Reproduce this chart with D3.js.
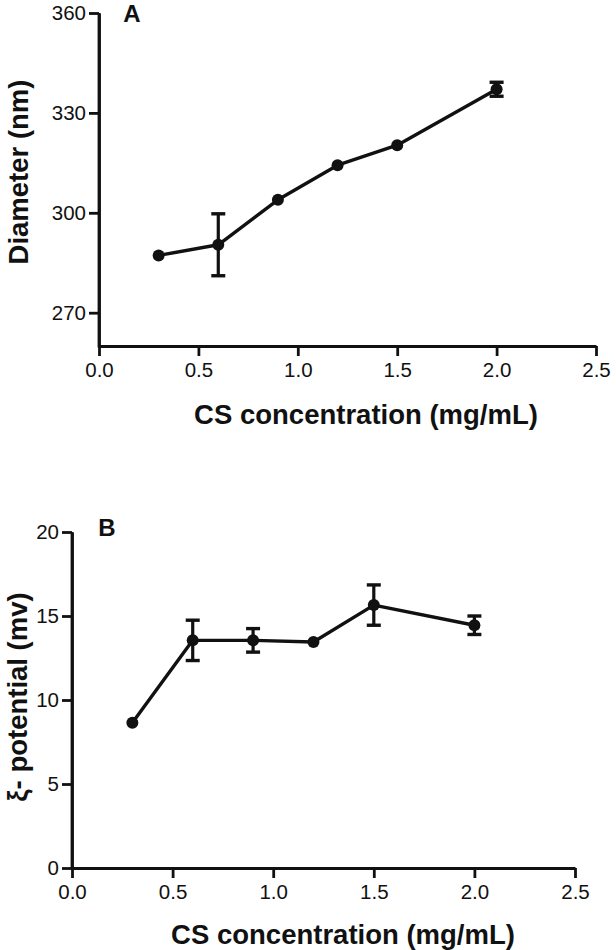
<!DOCTYPE html>
<html>
<head>
<meta charset="utf-8">
<script src="https://cdn.jsdelivr.net/npm/d3@7"></script>
<style>
  html, body { margin: 0; padding: 0; background: #fff; }
  svg { display: block; }
  text { font-family: "Liberation Sans", Arial, Helvetica, sans-serif; fill: #111; }
</style>
</head>
<body>
<svg id="chart" width="616" height="950"></svg>
<script>
// ---- data ----
const concentration = [0.3, 0.6, 0.9, 1.2, 1.5, 2.0];
const diameterMean = [287.2, 290.4, 303.9, 314.3, 320.3, 337.1];
const diameterErr  = [0, 9.3, 0, 0, 0, 2.1];
const zetaMean = [8.65, 13.55, 13.55, 13.45, 15.65, 14.45];
const zetaErr  = [0, 1.2, 0.7, 0, 1.2, 0.55];
const xTickValues = [0, 0.5, 1.0, 1.5, 2.0, 2.5];
const diameterTicks = [270, 300, 330, 360];
const zetaTicks = [0, 5, 10, 15, 20];
const xTitle = "CS concentration (mg/mL)";
const yTitleA = "Diameter (nm)";
const yTitleB = "ξ- potential (mv)";

const svg = d3.select("#chart");

function panel(cfg) {
  const g = svg.append("g");
  const x = d3.scaleLinear().domain([0, 2.5]).range([cfg.x0, cfg.x1]);
  const y = d3.scaleLinear().domain(cfg.yDomain).range([cfg.yBottom, cfg.yTop]);

  const xAxis = d3.axisBottom(x).tickValues(xTickValues).tickFormat(d3.format(".1f"))
    .tickSize(10).tickSizeOuter(0).tickPadding(6);
  const yAxis = d3.axisLeft(y).tickValues(cfg.yTicks).tickFormat(d3.format("d"))
    .tickSize(10).tickSizeOuter(0).tickPadding(3);

  const gx = g.append("g").attr("transform", `translate(0,${cfg.yBottom})`).call(xAxis);
  const gy = g.append("g").attr("transform", `translate(${cfg.x0},0)`).call(yAxis);
  [gx, gy].forEach(a => {
    a.select(".domain").attr("stroke", "#111").attr("stroke-width", 2.8);
    a.selectAll(".tick line").attr("stroke", "#111").attr("stroke-width", 2.8);
    a.selectAll(".tick text").attr("font-size", 20.5).attr("fill", "#111")
      .style("font-family", '"Liberation Sans", Arial, sans-serif');
  });
  g.append("line").attr("x1", cfg.x0).attr("x2", cfg.x0)
    .attr("y1", y(cfg.yDomain[0]) + 1.4).attr("y2", y(cfg.yDomain[1]))
    .attr("stroke", "#111").attr("stroke-width", 2.8);

  const line = d3.line().x((d, i) => x(concentration[i])).y(d => y(d));
  g.append("path").datum(cfg.mean).attr("d", line)
    .attr("fill", "none").attr("stroke", "#111").attr("stroke-width", 3.4)
    .attr("stroke-linejoin", "round");

  const eb = g.append("g");
  cfg.mean.forEach((m, i) => {
    if (!(cfg.err[i] > 0)) return;
    const cx = x(concentration[i]);
    const hi = y(m + cfg.err[i]), lo = y(m - cfg.err[i]);
    eb.append("line").attr("x1", cx).attr("x2", cx).attr("y1", hi).attr("y2", lo)
      .attr("stroke", "#111").attr("stroke-width", 3.2);
    [hi, lo].forEach(yy => eb.append("line").attr("x1", cx - 7).attr("x2", cx + 7)
      .attr("y1", yy).attr("y2", yy).attr("stroke", "#111").attr("stroke-width", 3.4));
  });

  g.selectAll("circle.pt").data(cfg.mean).join("circle").attr("class", "pt")
    .attr("cx", (d, i) => x(concentration[i])).attr("cy", d => y(d))
    .attr("r", 6).attr("fill", "#111");

  g.append("text").attr("x", cfg.xTitleX).attr("y", cfg.xTitleY)
    .attr("text-anchor", "middle").attr("font-size", 27.5).attr("font-weight", "bold")
    .text(xTitle);
  g.append("text").attr("transform", `translate(${cfg.yTitleX},${cfg.yTitleY}) rotate(-90)`)
    .attr("text-anchor", "middle").attr("font-size", 27.5).attr("font-weight", "bold")
    .text(cfg.yTitle);
  g.append("text").attr("x", cfg.labelX).attr("y", cfg.labelY)
    .attr("text-anchor", "middle").attr("font-size", 24).attr("font-weight", "bold")
    .text(cfg.label);
}

panel({
  x0: 99, x1: 596, yTop: 13, yBottom: 346, yDomain: [260, 360], yTicks: diameterTicks,
  mean: diameterMean, err: diameterErr,
  xTitleX: 366, xTitleY: 424, yTitle: yTitleA, yTitleX: 28, yTitleY: 172,
  label: "A", labelX: 132, labelY: 22
});
panel({
  x0: 72, x1: 575, yTop: 532, yBottom: 868, yDomain: [0, 20], yTicks: zetaTicks,
  mean: zetaMean, err: zetaErr,
  xTitleX: 343, xTitleY: 944, yTitle: yTitleB, yTitleX: 27, yTitleY: 697,
  label: "B", labelX: 107, labelY: 536
});
</script>
</body>
</html>
